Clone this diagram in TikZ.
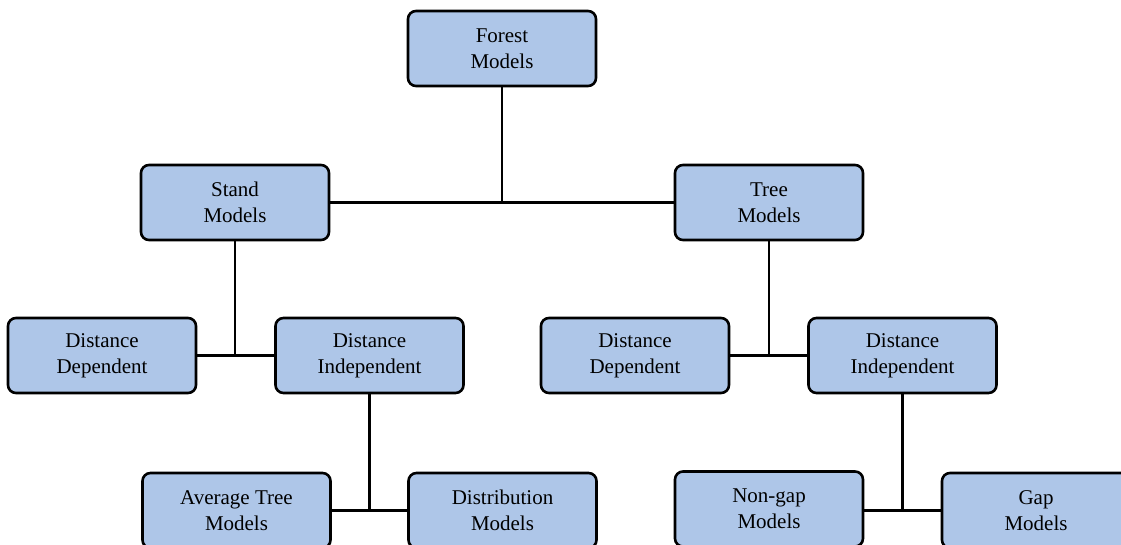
\documentclass[tikz,border=0pt]{standalone}
\usepackage{fontspec}
\setmainfont{Liberation Serif}
\definecolor{boxfill}{RGB}{174,198,232}
\begin{document}
\begin{tikzpicture}[x=1pt,y=-1pt,
  box/.style={draw=black, line width=2.6pt, fill=boxfill, rounded corners=8pt,
    minimum width=188pt, minimum height=75pt, align=center, inner sep=0pt,
    font=\fontsize{21}{26}\selectfont},
  link/.style={draw=black, line width=2.2pt}]
\useasboundingbox (0,0) rectangle (1121,545);
\clip (0,0) rectangle (1121,545);

% top level
\node[box] (forest) at (502,48.5) {Forest\\Models};

% second level
\node[box] (stand) at (235,202.5) {Stand\\Models};
\node[box] (tree)  at (769,202.5) {Tree\\Models};

% third level
\node[box] (sdd) at (102,355.5) {Distance\\Dependent};
\node[box] (sdi) at (369.5,355.5) {Distance\\Independent};
\node[box] (tdd) at (635,355.5) {Distance\\Dependent};
\node[box] (tdi) at (902.5,355.5) {Distance\\Independent};

% fourth level
\node[box] (avg)  at (236.5,510.5) {Average Tree\\Models};
\node[box] (dist) at (502.5,510.5) {Distribution\\Models};
\node[box] (ngap) at (769,509) {Non-gap\\Models};
\node[box] (gap)  at (1036,510.5) {Gap\\Models};

% connectors
\draw[link] (stand.east) -- (tree.west);
\draw[link] (forest.south) -- (forest.south |- stand.east);

\draw[link] (sdd.east) -- (sdi.west);
\draw[link] (stand.south) -- (stand.south |- sdd.east);
\draw[link] (tdd.east) -- (tdi.west);
\draw[link] (tree.south) -- (tree.south |- tdd.east);

\draw[link] (avg.east) -- (dist.west);
\draw[link] (sdi.south) -- (sdi.south |- avg.east);
\draw[link] (gap.west -| ngap.east) -- (gap.west);
\draw[link] (tdi.south) -- (tdi.south |- gap.west);
\end{tikzpicture}
\end{document}
